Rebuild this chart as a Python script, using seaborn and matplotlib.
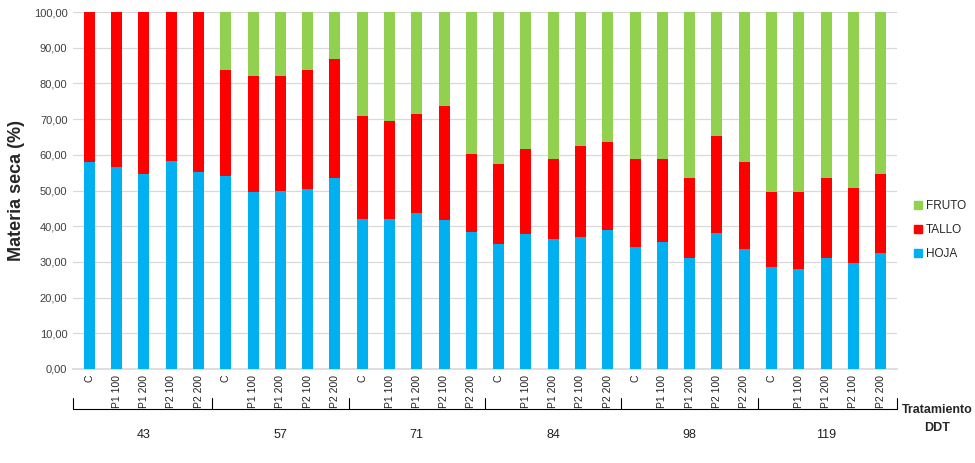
import numpy as np
import pandas as pd
import matplotlib
matplotlib.use("Agg")
from matplotlib import pyplot as plt
from matplotlib.patches import Patch
import seaborn as sns

days = ["43", "57", "71", "84", "98", "119"]
treatments = ["C", "P1 100", "P1 200", "P2 100", "P2 200"]

hoja = [58.1, 56.7, 54.5, 58.4, 55.3,
        54.2, 49.7, 50.0, 50.3, 53.6,
        41.9, 41.9, 43.6, 41.6, 38.3,
        34.9, 37.7, 36.3, 36.9, 38.8,
        34.1, 35.5, 31.0, 38.0, 33.6,
        28.6, 28.0, 31.0, 29.6, 32.4]
tallo = [41.9, 43.3, 45.5, 41.6, 44.7,
         29.6, 32.4, 32.1, 33.5, 33.3,
         29.0, 27.7, 27.9, 32.0, 22.0,
         22.6, 23.8, 22.6, 25.7, 24.9,
         24.6, 23.4, 22.6, 27.2, 24.5,
         20.9, 21.5, 22.6, 21.0, 22.2]
fruto = [0.0, 0.0, 0.0, 0.0, 0.0,
         16.2, 17.9, 17.9, 16.2, 13.1,
         29.1, 30.4, 28.5, 26.4, 39.7,
         42.5, 38.5, 41.1, 37.4, 36.3,
         41.3, 41.1, 46.4, 34.8, 41.9,
         50.5, 50.5, 46.4, 49.4, 45.4]

colors = {"HOJA": "#00B0F0", "TALLO": "#FF0000", "FRUTO": "#92D050"}

df = pd.DataFrame({
    "dia": np.repeat(days, len(treatments)),
    "tratamiento": treatments * len(days),
    "HOJA": hoja, "TALLO": tallo, "FRUTO": fruto,
})
df["bar"] = df["dia"] + "-" + df["tratamiento"]
df["cum_hoja"] = df["HOJA"]
df["cum_tallo"] = df["HOJA"] + df["TALLO"]
df["cum_fruto"] = df["HOJA"] + df["TALLO"] + df["FRUTO"]

sns.set_theme(style="white")
plt.rcParams["font.family"] = ["Liberation Sans", "DejaVu Sans"]

fig = plt.figure(figsize=(9.75, 4.63), dpi=100)
ax = fig.add_axes([73 / 975, 1 - 369 / 463, (897 - 73) / 975, (369 - 12) / 463])

order = list(df["bar"])
# stacked look: draw cumulative totals from top to bottom
for col, name in [("cum_fruto", "FRUTO"), ("cum_tallo", "TALLO"), ("cum_hoja", "HOJA")]:
    sns.barplot(data=df, x="bar", y=col, order=order, color=colors[name],
                saturation=1, width=0.4, ax=ax, errorbar=None, zorder=3,
                linewidth=0)

ax.set_ylim(0, 100)
ax.set_xlim(-0.6, len(order) - 0.4)
ax.set_yticks(np.arange(0, 101, 10))
ax.yaxis.set_major_formatter(matplotlib.ticker.FuncFormatter(lambda v, p: f"{v:.2f}".replace(".", ",")))
ax.tick_params(axis="y", labelsize=8, colors="#404040", length=0, pad=4)
ax.grid(axis="y", color="#D9D9D9", linewidth=0.9, zorder=0)
ax.set_axisbelow(True)
for s in ["top", "right", "left"]:
    ax.spines[s].set_visible(False)
ax.spines["bottom"].set_color("#D9D9D9")

ax.set_xticks(range(len(order)))
ax.set_xticklabels(df["tratamiento"], rotation=90, fontsize=7.5, color="#202020")
ax.tick_params(axis="x", length=0, pad=4)
ax.set_xlabel("")
ax.set_ylabel("Materia seca (%)", fontsize=13, fontweight="bold", labelpad=6)

# group brackets and day labels
trans = ax.get_xaxis_transform()
n = len(treatments)
for i in range(len(days) + 1):
    xpos = i * n - 0.5 if 0 < i < len(days) else (-0.6 if i == 0 else len(order) - 0.4)
    ax.plot([xpos, xpos], [-0.08, -0.113], transform=trans, color="black",
            linewidth=0.8, clip_on=False)
ax.plot([-0.6, len(order) - 0.4], [-0.113, -0.113], transform=trans, color="black",
        linewidth=0.8, clip_on=False)
for i, d in enumerate(days):
    ax.text(i * n + 2, -0.185, d, transform=trans, ha="center", va="center",
            fontsize=9, color="#202020")
fig.text(937 / 975, 1 - 419 / 463, "Tratamiento\nDDT", ha="center", va="center",
         fontsize=9, fontweight="bold", linespacing=1.6)

handles = [Patch(color=colors[k]) for k in ["FRUTO", "TALLO", "HOJA"]]
leg = fig.legend(handles, ["FRUTO", "TALLO", "HOJA"], loc="center left",
                 bbox_to_anchor=(914 / 975, 1 - 230 / 463), frameon=False,
                 fontsize=8.5, handlelength=0.7, handleheight=0.7,
                 handletextpad=0.3, labelspacing=1.0, borderaxespad=0,
                 borderpad=0)

fig.savefig("out.png", dpi=100)
